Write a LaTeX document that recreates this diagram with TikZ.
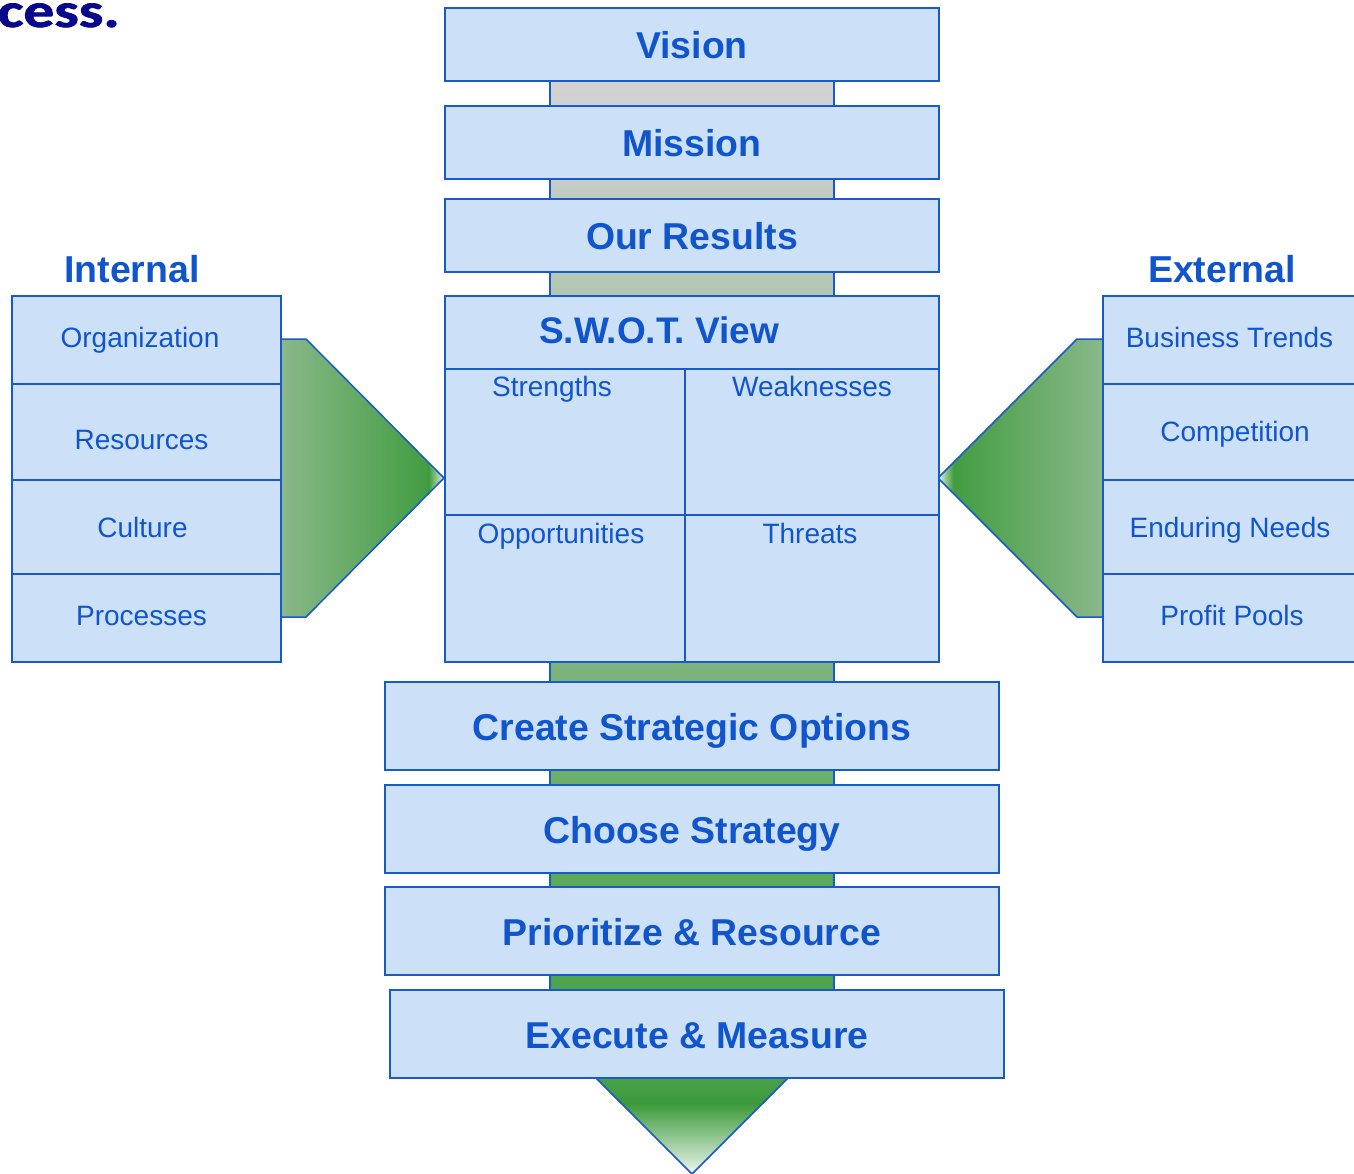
\documentclass[tikz,border=0pt]{standalone}
\usepackage{fontspec}
\setmainfont{Liberation Sans}
\newfontfamily\slidefont[BoldFeatures={FakeBold=1.5}]{Carlito}
\pgfdeclarelayer{background}
\pgfsetlayers{background,main}

\definecolor{boxfill}{RGB}{204,224,248}
\definecolor{boxline}{RGB}{24,90,200}
\definecolor{boxtext}{RGB}{17,85,204}
\definecolor{titlenavy}{RGB}{8,8,140}
\definecolor{spinetop}{RGB}{210,210,210}
\definecolor{spinebot}{RGB}{76,164,76}
\definecolor{arrowlight}{RGB}{138,184,138}
\definecolor{arrowdark}{RGB}{58,154,58}
\definecolor{arrowpale}{RGB}{225,240,225}

\begin{document}
\begin{tikzpicture}[x=1pt,y=-1pt,
  panel/.style={draw=boxline, line width=2pt, fill=boxfill, inner sep=0pt, anchor=north west},
  stage/.style={panel, text=boxtext, font=\fontsize{37.4}{40}\selectfont\bfseries,
                text height=28pt, text depth=0pt},
  bigtext/.style={text=boxtext, font=\fontsize{37}{40}\selectfont\bfseries, inner sep=0pt,
                  text height=26.5pt, text depth=0pt},
  headtext/.style={text=boxtext, font=\fontsize{37.5}{40}\selectfont\bfseries, inner sep=0pt,
                   text height=27pt, text depth=0pt},
  celltext/.style={text=boxtext, font=\fontsize{28}{32}\selectfont, inner sep=0pt,
                   text height=20pt, text depth=0pt},
  edgeline/.style={draw=boxline, line width=1.5pt, line join=miter}]
\useasboundingbox (0,0) rectangle (1354,1173);

% slide title, cut by the page edge
\node[anchor=base east, inner sep=0pt, text=titlenavy] (slidetitle) at (120,27)
  {\scalebox{1.28}[1]{\slidefont\bfseries\fontsize{48}{50}\selectfont cess.}};

% central stages
\node[stage, minimum width=494pt, minimum height=73pt] (vision)  at (444,7)   {Vision};
\node[stage, minimum width=494pt, minimum height=73pt] (mission) at (444,105) {Mission};
\node[stage, minimum width=494pt, minimum height=73pt] (results) at (444,198) {Our Results};

% S.W.O.T. grid
\node[panel, minimum width=494pt, minimum height=73pt] (swot) at (444,295) {};
\node[bigtext] (swottitle) at (659,330) {S.W.O.T. View};
\node[panel, minimum width=240pt, minimum height=146pt] (strength) at (444,368) {};
\node[panel, minimum width=254pt, minimum height=146pt] (weak)     at (684,368) {};
\node[panel, minimum width=240pt, minimum height=147pt] (opport)   at (444,514) {};
\node[panel, minimum width=254pt, minimum height=147pt] (threat)   at (684,514) {};
\node[celltext] (strengthtxt) at (552,386) {Strengths};
\node[celltext] (weaktxt)     at (812,386) {Weaknesses};
\node[celltext] (opporttxt)   at (561,533) {Opportunities};
\node[celltext] (threattxt)   at (810,533) {Threats};

\node[stage, minimum width=614pt, minimum height=88pt] (create)  at (384,681) {Create Strategic Options};
\node[stage, minimum width=614pt, minimum height=88pt] (choose)  at (384,784) {Choose Strategy};
\node[stage, minimum width=614pt, minimum height=88pt] (prior)   at (384,886) {Prioritize \& Resource};
\node[stage, minimum width=614pt, minimum height=88pt] (execute) at (389,989) {Execute \& Measure};

% internal factors
\node[headtext] (internal) at (132,269) {Internal};
\node[panel, minimum width=269pt, minimum height=88pt] (org)     at (11,295) {};
\node[panel, minimum width=269pt, minimum height=96pt] (res)     at (11,383) {};
\node[panel, minimum width=269pt, minimum height=94pt] (cult)    at (11,479) {};
\node[panel, minimum width=269pt, minimum height=88pt] (proc)    at (11,573) {};
\node[celltext] (orgtxt)  at (140,337) {Organization};
\node[celltext] (restxt)  at (141.5,439) {Resources};
\node[celltext] (culttxt) at (142.5,527.5) {Culture};
\node[celltext] (proctxt) at (141.5,615) {Processes};

% external factors
\node[headtext] (external) at (1222,269) {External};
\node[panel, minimum width=280pt, minimum height=88pt] (trends)  at (1102,295) {};
\node[panel, minimum width=280pt, minimum height=96pt] (compet)  at (1102,383) {};
\node[panel, minimum width=280pt, minimum height=94pt] (needs)   at (1102,479) {};
\node[panel, minimum width=280pt, minimum height=88pt] (pools)   at (1102,573) {};
\node[celltext] (trendstxt) at (1229.5,337) {Business Trends};
\node[celltext] (competxt)  at (1235,431) {Competition};
\node[celltext] (needstxt)  at (1230,527.5) {Enduring Needs};
\node[celltext] (poolstxt)  at (1232,615) {Profit Pools};

\begin{pgfonlayer}{background}
  % spine joining the stages, grey at the top turning green downwards
  \path (vision.south) ++(-142,0) coordinate (spineA);
  \path (vision.south |- execute.north) ++(142,0) coordinate (spineB);
  \shade[top color=spinetop, bottom color=spinebot] (spineA) rectangle (spineB);
  \draw[edgeline] (spineA) -- (spineA |- spineB);
  \draw[edgeline] (spineB |- spineA) -- (spineB);

  % internal arrow into the S.W.O.T. grid
  \shade[left color=arrowlight, right color=arrowdark]
    (280,339) -- (306,339) -- (444,478) -- (306,617) -- (280,617) -- cycle;
  \shade[left color=arrowdark, right color=arrowpale]
    (428,462) -- (444,478) -- (428,494) -- cycle;
  \draw[edgeline] (280,339) -- (306,339) -- (444,478) -- (306,617) -- (280,617);

  % external arrow into the S.W.O.T. grid
  \shade[left color=arrowdark, right color=arrowlight]
    (1102,339) -- (1077,339) -- (938,478) -- (1077,617) -- (1102,617) -- cycle;
  \shade[left color=arrowpale, right color=arrowdark]
    (954,462) -- (938,478) -- (954,494) -- cycle;
  \draw[edgeline] (1102,339) -- (1077,339) -- (938,478) -- (1077,617) -- (1102,617);

  % downward arrow below the last stage
  \shade[top color={rgb,255:red,74;green,162;blue,74}, bottom color=arrowdark]
    (595,1077) -- (789,1077) -- (763,1104) -- (621,1104) -- cycle;
  \shade[top color=arrowdark, bottom color={rgb,255:red,238;green,246;blue,238}]
    (621,1103) -- (763,1103) -- (692,1174) -- cycle;
  \draw[edgeline] (595,1077) -- (692,1174) -- (789,1077);
\end{pgfonlayer}
\end{tikzpicture}
\end{document}
